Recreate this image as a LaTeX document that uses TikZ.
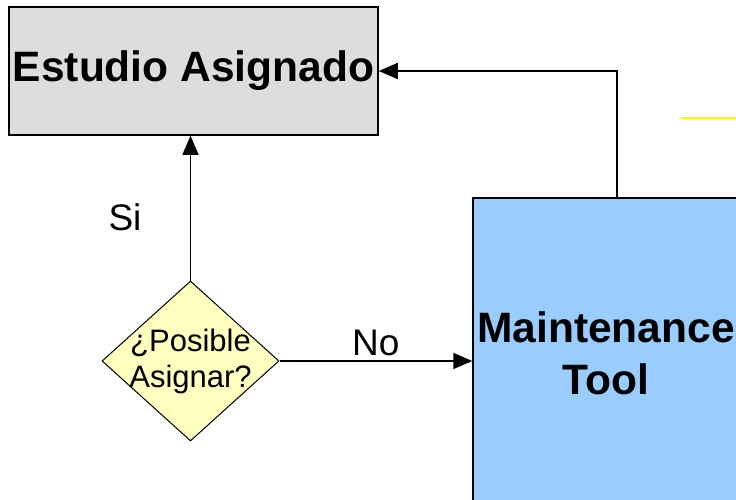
\documentclass[tikz,border=0pt]{standalone}
\usepackage{fontspec}
\setmainfont{Liberation Sans}
\usetikzlibrary{arrows.meta,shapes.geometric}
\definecolor{boxgray}{HTML}{DDDDDD}
\definecolor{toolblue}{HTML}{99CCFF}
\definecolor{askyellow}{HTML}{FFFFC0}
\begin{document}
\begin{tikzpicture}[x=1pt,y=-1pt,
    line width=1.5pt,
    flow/.style={-{Triangle[length=19pt,width=16pt]}},
    bigtext/.style={font=\fontsize{42.5}{52}\selectfont\bfseries, align=center},
    answer/.style={font=\fontsize{37}{42}\selectfont}]
        \clip (0,0) rectangle (736,500);

        \node [draw, fill=boxgray, minimum width=369pt, minimum height=128pt, inner sep=0pt, bigtext] (est) at (193.5,71) {Estudio Asignado};
        \node [draw, fill=toolblue, minimum width=266pt, minimum height=310pt, inner sep=0pt, bigtext] (mt) at (606,353) {Maintenance\\Tool};
        \node [draw, fill=askyellow, diamond, minimum width=177pt, minimum height=160pt, inner sep=0pt, line width=1pt] (ask) at (190.5,361) {};
        \node [align=center, font=\fontsize{31}{36}\selectfont] (asktext) at (ask.center) {¿Posible\\Asignar?};

        \coordinate (bend) at (617,71);

        \draw [flow] (ask.north) -- (ask.north |- est.south) node [pos=0.44, left=45pt, answer] {Si};
        \draw [flow] (ask.east) -- (mt.west |- ask.east) node [midway, above=1pt, answer] {No};
        \draw [flow] (mt.north -| bend) -- (bend) -- (est.east);

        \draw [yellow, line width=2pt] (681,118) -- (736,118);
      \end{tikzpicture}
\end{document}
